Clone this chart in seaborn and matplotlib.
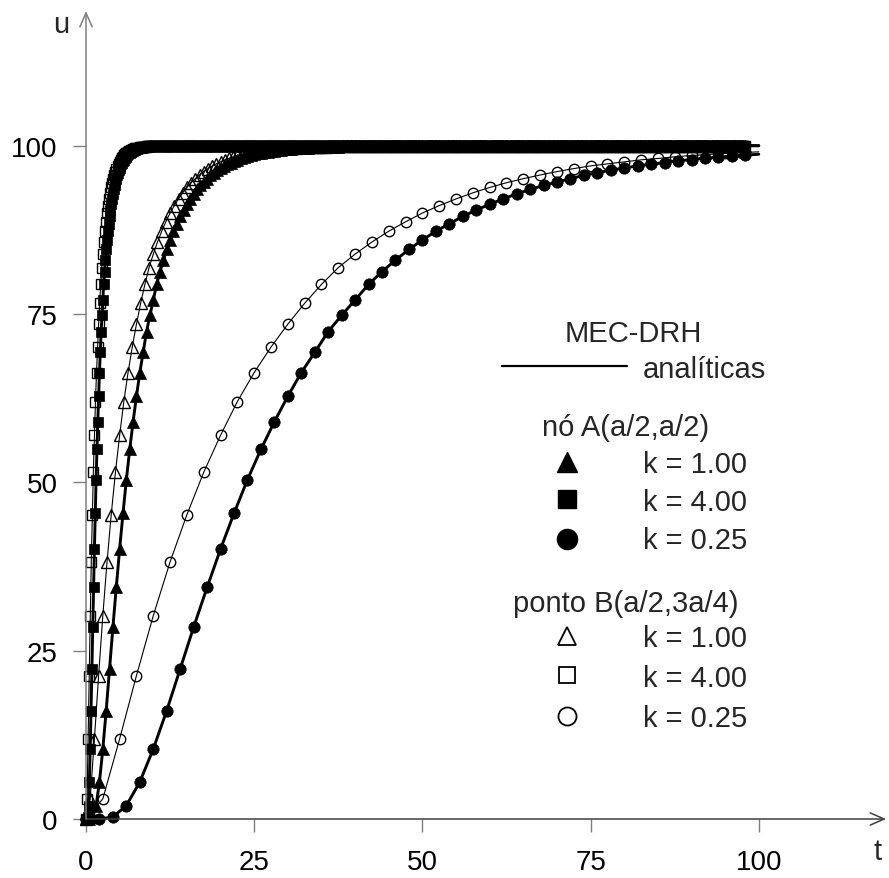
import numpy as np
import pandas as pd
import matplotlib
matplotlib.use("Agg")
import matplotlib.pyplot as plt
import seaborn as sns
from matplotlib.lines import Line2D

# ---------------- data ----------------
# u at node A as a function of scaled time s = k*t, sampled every 0.5
NODE_A_STEP = 0.5
NODE_A = [0.0, 0.0, 0.3, 2.0, 5.5, 10.4, 16.1, 22.3, 28.5, 34.4,
          40.1, 45.4, 50.4, 54.9, 59.0, 62.8, 66.3, 69.3, 72.4, 74.8,
          77.1, 79.4, 81.3, 83.0, 84.6, 86.0, 87.3, 88.4, 89.5, 90.45,
          91.3, 92.1, 92.85, 93.5, 94.1, 94.6, 95.1, 95.6, 96.0, 96.35,
          96.7, 97.0, 97.25, 97.5, 97.75, 97.95, 98.15, 98.3, 98.45, 98.6,
          98.73, 98.85, 98.95, 99.05, 99.13, 99.21, 99.28, 99.35, 99.41, 99.46,
          99.51, 99.55, 99.59, 99.63, 99.66, 99.69, 99.72, 99.75, 99.77, 99.79,
          99.81, 99.83, 99.84, 99.86, 99.87, 99.88, 99.89, 99.90, 99.91, 99.92,
          99.93, 99.93, 99.94, 99.94, 99.95, 99.95, 99.96, 99.96, 99.96, 99.97,
          99.97, 99.97, 99.97, 99.98, 99.98, 99.98, 99.98, 99.98, 99.98]

# u at point B as a function of scaled time s = k*t, sampled every 0.625
POINT_B_STEP = 0.625
POINT_B = [0.0, 3.0, 11.9, 21.3, 30.2, 38.2, 45.2, 51.5, 57.0, 62.0,
           66.3, 70.1, 73.5, 76.6, 79.4, 81.9, 83.9, 85.7, 87.3, 88.7,
           90.0, 91.1, 92.1, 93.0, 93.8, 94.5, 95.1, 95.65, 96.15, 96.6,
           97.0, 97.3, 97.6, 97.9, 98.1, 98.35, 98.55, 98.7, 98.85, 98.97,
           99.09, 99.19, 99.28, 99.36, 99.43, 99.5, 99.56, 99.61, 99.65, 99.69,
           99.73, 99.76, 99.79, 99.81, 99.83, 99.85, 99.87, 99.88, 99.9, 99.91,
           99.92, 99.93, 99.94, 99.95, 99.95]

PLATEAU = 100.0          # steady-state value reached by every curve
K_VALUES = [1.00, 4.00, 0.25]
K_LABELS = ["k = 1.00", "k = 4.00", "k = 0.25"]
T_LINE_END = 100.0
T_MARK_END = 98.0

X_TICKS = [0, 25, 50, 75, 100]
Y_TICKS = [0, 25, 50, 75, 100]


def build(base, step, k):
    n = int(round(k * T_LINE_END / step)) + 1
    vals = list(base) + [PLATEAU] * max(0, n - len(base))
    vals = np.array(vals[:n])
    t = np.arange(n) * step / k
    return pd.DataFrame({"t": t, "u": vals})


# ---------------- figure ----------------
sns.set_theme(style="white")
plt.rcParams["font.family"] = ["Liberation Sans", "DejaVu Sans"]

W, H = 889, 879
fig = plt.figure(figsize=(W / 100, H / 100), dpi=100)
ax = fig.add_axes([86 / W, 1 - 820 / H, 800 / W, 808 / H])
ax.set_xlim(0, 800 / 6.728)
ax.set_ylim(0, 808 / 6.733)

MARKERS = {1.00: "^", 4.00: "s", 0.25: "o"}
MSIZE = {1.00: 8.0, 4.00: 6.8, 0.25: 8.2}
MSIZE_H = {1.00: 8.0, 4.00: 7.0, 0.25: 7.5}

for base, step, filled in [(POINT_B, POINT_B_STEP, False), (NODE_A, NODE_A_STEP, True)]:
    for k in K_VALUES:
        df = build(base, step, k)
        sns.lineplot(data=df, x="t", y="u", ax=ax, color="black",
                     lw=2.1 if filled else 0.8, estimator=None, sort=False,
                     clip_on=False, legend=False)
        dm = df[df["t"] <= T_MARK_END + 1e-9]
        sns.lineplot(data=dm, x="t", y="u", ax=ax, color="black",
                     linestyle="none", marker=MARKERS[k],
                     markersize=MSIZE[k] if filled else MSIZE_H[k],
                     markerfacecolor="black" if filled else "none",
                     markeredgecolor="black",
                     markeredgewidth=0.5 if filled else 1.0,
                     estimator=None, sort=False, clip_on=False, legend=False)

# axes styling
for s in ax.spines.values():
    s.set_visible(False)
ax.set_xlabel("")
ax.set_ylabel("")
ax.set_xticks(X_TICKS)
ax.set_yticks(Y_TICKS)
ax.set_xticklabels([str(v) for v in X_TICKS])
ax.set_yticklabels([str(v) for v in Y_TICKS])
ax.tick_params(axis="both", direction="out", length=9.4, width=1.0,
               color="#7f7f7f", labelsize=20, labelcolor="black")
ax.tick_params(axis="x", pad=12, bottom=True)
ax.tick_params(axis="y", pad=11, left=True)
ax.grid(False)

ax.annotate("", xy=(1, 0), xytext=(0, 0), xycoords="axes fraction",
            arrowprops=dict(arrowstyle="->,head_length=0.5,head_width=0.22",
                            color="#404040", lw=1.1, mutation_scale=20,
                            shrinkA=0, shrinkB=0))
ax.annotate("", xy=(0, 1), xytext=(0, 0), xycoords="axes fraction",
            arrowprops=dict(arrowstyle="->,head_length=0.5,head_width=0.22",
                            color="#7f7f7f", lw=1.1, mutation_scale=20,
                            shrinkA=0, shrinkB=0))


def fx(px):
    return px / W


def fy(py):
    return 1 - py / H


fig.text(fx(61), fy(33), "u", fontsize=21, ha="center", va="baseline")
fig.text(fx(878), fy(860), "t", fontsize=21, ha="center", va="baseline")

# custom legend
FS = 21
fig.text(fx(565), fy(342), "MEC-DRH", fontsize=FS, ha="left", va="baseline")
fig.add_artist(Line2D([fx(502), fx(627)], [fy(367), fy(367)], color="black",
                      lw=1.6, transform=fig.transFigure))
fig.text(fx(643), fy(378), "analíticas", fontsize=FS, ha="left", va="baseline")
fig.text(fx(542), fy(436), "nó A(a/2,a/2)", fontsize=FS, ha="left", va="baseline")
fig.text(fx(513), fy(612), "ponto B(a/2,3a/4)", fontsize=FS, ha="left", va="baseline")

LEG_A_MARK_Y = [463, 500, 540]
LEG_A_TEXT_Y = [473, 511, 549]
LEG_B_MARK_Y = [637, 676, 717]
LEG_B_TEXT_Y = [647, 687, 727]
LEG_MS = {1.00: 14.5, 4.00: 13.5, 0.25: 14.5}
for i, k in enumerate(K_VALUES):
    fig.add_artist(Line2D([fx(567)], [fy(LEG_A_MARK_Y[i])], marker=MARKERS[k],
                          markersize=LEG_MS[k], color="black", mfc="black",
                          mec="black", linestyle="none", transform=fig.transFigure))
    fig.text(fx(643), fy(LEG_A_TEXT_Y[i]), K_LABELS[i], fontsize=FS,
             ha="left", va="baseline")
    fig.add_artist(Line2D([fx(567)], [fy(LEG_B_MARK_Y[i])], marker=MARKERS[k],
                          markersize=LEG_MS[k] - 1.5, color="black", mfc="none",
                          mec="black", mew=1.3, linestyle="none",
                          transform=fig.transFigure))
    fig.text(fx(643), fy(LEG_B_TEXT_Y[i]), K_LABELS[i], fontsize=FS,
             ha="left", va="baseline")

fig.savefig("out.png", dpi=100)
